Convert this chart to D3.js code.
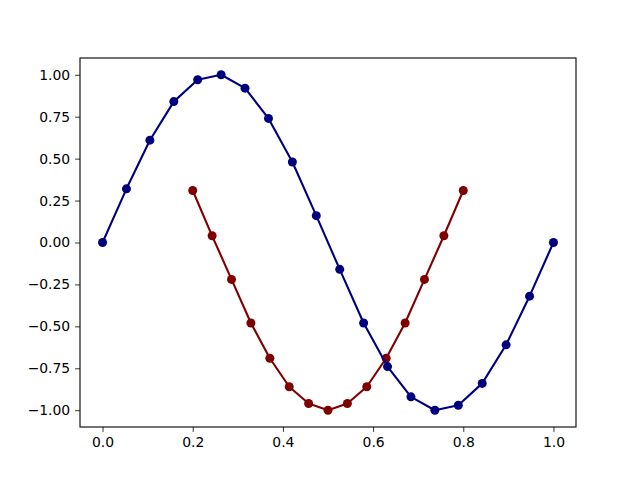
<!DOCTYPE html>
<html>
<head>
<meta charset="utf-8">
<script src="https://cdn.jsdelivr.net/npm/d3@7"></script>
<style>
  body { margin: 0; background: #fff; }
  svg { display: block; }
</style>
</head>
<body>
<div id="chart"></div>
<script>
// values
const blueX = [0, 0.053, 0.105, 0.158, 0.211, 0.263, 0.316, 0.368, 0.421, 0.474,
               0.526, 0.579, 0.632, 0.684, 0.737, 0.789, 0.842, 0.895, 0.947, 1.0]
const blueY = [0, 0.32, 0.61, 0.84, 0.97, 1.0, 0.92, 0.74, 0.48, 0.16,
               -0.16, -0.48, -0.74, -0.92, -1.0, -0.97, -0.84, -0.61, -0.32, 0]
const redX = [0.2, 0.243, 0.286, 0.329, 0.371, 0.414, 0.457, 0.5, 0.543, 0.586,
              0.629, 0.671, 0.714, 0.757, 0.8]
const redY = [0.31, 0.04, -0.22, -0.48, -0.69, -0.86, -0.96, -1.0, -0.96, -0.86,
              -0.69, -0.48, -0.22, 0.04, 0.31]
const xTicks = [0.0, 0.2, 0.4, 0.6, 0.8, 1.0]
const yTicks = [-1.0, -0.75, -0.5, -0.25, 0.0, 0.25, 0.5, 0.75, 1.0]

const W = 640, H = 480
const margin = { top: 58, right: 64, bottom: 53, left: 80 }
const width = W - margin.left - margin.right
const height = H - margin.top - margin.bottom

const svg = d3.select("#chart")
    .append("svg")
    .attr("width", W)
    .attr("height", H)

const g = svg.append("g")
    .attr("transform", "translate(" + margin.left + "," + margin.top + ")")

const x = d3.scaleLinear().domain([-0.05, 1.05]).range([0, width])
const y = d3.scaleLinear().domain([-1.1, 1.1]).range([height, 0])

const styleAxis = (sel) => {
    sel.select(".domain").remove()
    sel.selectAll(".tick line").attr("stroke", "#000").attr("stroke-width", 0.8)
    sel.selectAll(".tick text")
        .attr("font-family", "DejaVu Sans")
        .attr("font-size", 13.9)
        .attr("fill", "#000")
}

g.append("g")
    .attr("transform", "translate(0," + height + ")")
    .call(d3.axisBottom(x).tickValues(xTicks).tickSize(4.9).tickPadding(4.9).tickFormat(d3.format(".1f")))
    .call(styleAxis)

g.append("g")
    .call(d3.axisLeft(y).tickValues(yTicks).tickSize(4.9).tickPadding(4.9).tickFormat(d3.format(".2f")))
    .call(styleAxis)

// matplotlib uses a real minus sign
g.selectAll(".tick text").text(function () { return d3.select(this).text().replace("-", "\u2212") })

const drawSeries = (xs, ys, color) => {
    const pts = xs.map((d, i) => [d, ys[i]])
    const line = d3.line().x(d => x(d[0])).y(d => y(d[1]))
    g.append("path")
        .datum(pts)
        .attr("fill", "none")
        .attr("stroke", color)
        .attr("stroke-width", 2.1)
        .attr("stroke-linejoin", "round")
        .attr("d", line)
    g.append("g")
        .selectAll("circle")
        .data(pts)
        .enter()
        .append("circle")
        .attr("cx", d => x(d[0]))
        .attr("cy", d => y(d[1]))
        .attr("r", 4.5)
        .attr("fill", color)
}

drawSeries(redX, redY, "#7f0000")
drawSeries(blueX, blueY, "#00007f")

// frame
g.append("rect")
    .attr("width", width)
    .attr("height", height)
    .attr("fill", "none")
    .attr("stroke", "#000")
    .attr("stroke-width", 1.1)
</script>
</body>
</html>
